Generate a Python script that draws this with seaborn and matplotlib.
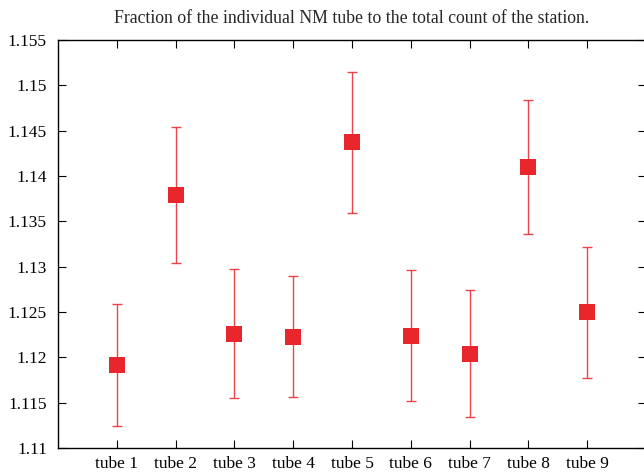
import matplotlib
matplotlib.use("Agg")
import matplotlib.pyplot as plt
import seaborn as sns
import pandas as pd

tubes = ["tube 1", "tube 2", "tube 3", "tube 4", "tube 5", "tube 6", "tube 7", "tube 8", "tube 9"]
fraction = [1.1192, 1.1379, 1.1226, 1.1222, 1.1438, 1.1224, 1.1204, 1.1410, 1.1250]
err_low = [1.1124, 1.1304, 1.1155, 1.1156, 1.1359, 1.1152, 1.1134, 1.1336, 1.1177]
err_high = [1.1259, 1.1454, 1.1297, 1.1290, 1.1515, 1.1296, 1.1274, 1.1484, 1.1322]
yticks = [1.11, 1.115, 1.12, 1.125, 1.13, 1.135, 1.14, 1.145, 1.15, 1.155]
ytick_labels = ["1.11", "1.115", "1.12", "1.125", "1.13", "1.135", "1.14", "1.145", "1.15", "1.155"]
title = "Fraction of the individual NM tube to the total count of the station."

df = pd.DataFrame({"tube": tubes, "fraction": fraction, "lo": err_low, "hi": err_high})

sns.set_theme(style="ticks")
plt.rcParams["font.family"] = ["Liberation Serif", "DejaVu Serif"]

red = "#e8262c"
fig = plt.figure(figsize=(6.44, 4.76), dpi=100)
ax = fig.add_axes([58 / 644, 28 / 476, 588 / 644, 408 / 476])

ax.errorbar(df["tube"], df["fraction"],
            yerr=[df["fraction"] - df["lo"], df["hi"] - df["fraction"]],
            fmt="none", ecolor=red, elinewidth=1.0, capsize=3.5, capthick=1.0, alpha=0.85, zorder=2)
sns.scatterplot(data=df, x="tube", y="fraction", marker="s", s=130, color=red,
                edgecolor=red, linewidth=0, ax=ax, zorder=3)

ax.set_xlim(-1, 9)
ax.set_ylim(1.11, 1.155)
ax.set_yticks(yticks)
ax.set_yticklabels(ytick_labels)
ax.set_xlabel("")
ax.set_ylabel("")
ax.set_title(title, fontsize=12.8, pad=12)
ax.tick_params(direction="in", top=True, right=True, length=6, width=0.8, labelsize=12.5, colors="black")
ax.tick_params(axis="x", pad=6)
ax.tick_params(axis="y", pad=8)
for s in ax.spines.values():
    s.set_visible(True)
    s.set_linewidth(1.0)
    s.set_color("black")

fig.savefig("out.png", dpi=100)
